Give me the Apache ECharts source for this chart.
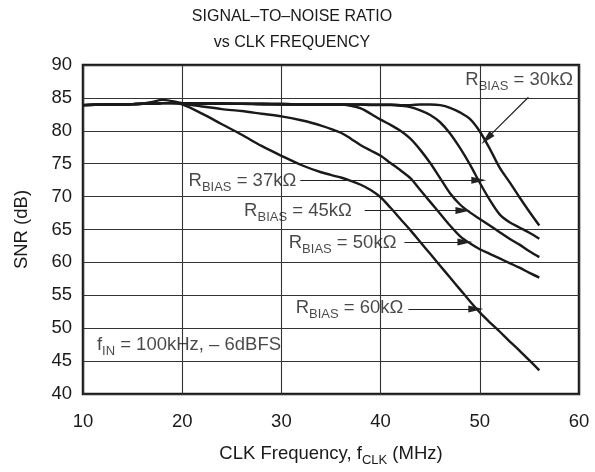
<!DOCTYPE html>
<html>
<head>
<meta charset="utf-8">
<script src="https://cdn.jsdelivr.net/npm/echarts@6/dist/echarts.min.js"></script>
<style>
html,body{margin:0;padding:0;background:#fff;}
#chart{width:595px;height:472px;}
</style>
</head>
<body>
<div id="chart"></div>
<script>
// ---- data ----
const freq = [10,12,14,16,17,18,19,20,22,24,26,28,30,32,34,36,37,38,39,40,41,42,43,44,45,46,47,48,49,50,51,52,53,54,55,56];
const snr30k = [83.9,84.0,84.0,84.1,84.1,84.2,84.2,84.2,84.2,84.2,84.1,84.1,84.1,84.0,84.0,84.0,84.0,84.0,84.0,84.0,84.0,83.9,83.9,84.0,84.0,83.9,83.5,82.8,81.8,79.9,77.3,74.4,72.2,69.9,67.7,65.6];
const snr37k = [83.9,84.0,84.0,84.1,84.4,84.7,84.5,84.2,84.1,84.1,84.1,84.0,84.0,84.0,84.0,84.0,84.0,84.0,83.9,83.9,83.9,83.8,83.6,83.1,82.4,81.3,79.6,77.4,74.9,72.1,69.5,67.3,66.1,65.3,64.5,63.6];
const snr45k = [83.9,84.0,84.0,84.1,84.1,84.2,84.2,84.2,84.1,84.1,84.1,84.1,84.0,84.0,84.0,84.0,83.8,83.4,82.6,81.7,80.9,80.0,78.8,77.1,75.1,72.8,70.5,68.8,67.6,66.6,65.6,64.6,63.6,62.7,61.7,60.8];
const snr50k = [83.9,84.0,84.0,84.1,84.1,84.2,84.2,84.1,83.7,83.3,83.0,82.6,82.2,81.6,80.8,79.7,78.8,77.8,77.0,76.2,75.1,74.0,72.8,71.0,69.2,67.4,65.6,64.0,62.9,62.0,61.3,60.6,59.9,59.2,58.4,57.7];
const snr60k = [83.9,84.0,84.0,84.1,84.1,84.2,84.2,84.0,82.6,81.0,79.4,77.7,76.2,74.8,73.7,72.9,72.4,71.8,71.0,69.9,68.3,66.6,64.9,63.1,61.3,59.5,57.7,55.9,54.1,52.4,50.9,49.5,48.0,46.6,45.1,43.6];

const xTicks = [10,20,30,40,50,60];
const yTicks = [40,45,50,55,60,65,70,75,80,85,90];

// annotation labels: [x, y, resistor text, anchor side]
const labelPos = [
  [59.4, 87.8, '30kΩ', 'left'],
  [31.5, 72.4, '37kΩ', 'left'],
  [37.1, 67.9, '45kΩ', 'left'],
  [41.6, 63.0, '50kΩ', 'left'],
  [42.3, 53.1, '60kΩ', 'left']
];
// arrows: [x1, y1, x2, y2]
const arrows = [
  [54.9, 85.1, 50.7, 78.8],
  [31.9, 72.5, 49.9, 72.5],
  [38.4, 67.9, 48.3, 67.9],
  [42.4, 63.1, 48.5, 63.1],
  [42.8, 52.9, 49.6, 52.9]
];
const condPos = [11.4, 47.5];

const FONT = 'Liberation Sans, Arial, sans-serif';
const INK = '#1a1a1a';
const FS = 18.5;

function curve(name, vals){
  return {
    name, type:'line', data: freq.map((f,i)=>[f, vals[i]]),
    showSymbol:false, smooth:0.3,
    lineStyle:{color:INK, width:2.4}, silent:true, animation:false, z:3
  };
}

const rich = {
  r:{fontSize:FS, color:INK, fontFamily:FONT},
  s:{fontSize:13, color:INK, fontFamily:FONT, padding:[14,0,0,0]}
};

const chart = echarts.init(document.getElementById('chart'), null, {renderer:'canvas'});
chart.setOption({
  backgroundColor:'#fff',
  animation:false,
  title:{
    text:'SIGNAL–TO–NOISE RATIO\nvs CLK FREQUENCY',
    left:292, top:4, textAlign:'center', padding:0,
    textStyle:{fontFamily:FONT, fontSize:16, fontWeight:'normal', color:INK, lineHeight:26}
  },
  grid:{left:83, right:16, top:65, bottom:72, show:true, borderColor:INK, borderWidth:2.5, backgroundColor:'transparent'},
  xAxis:{
    type:'value', min:10, max:60, interval:10,
    axisLine:{show:false}, axisTick:{show:false},
    axisLabel:{fontFamily:FONT, fontSize:FS, color:INK, margin:18,
      formatter:v=> xTicks.includes(v) ? String(v) : ''},
    splitLine:{show:true, lineStyle:{color:'#333', width:1.1}},
    name:'CLK Frequency, f{s|CLK} (MHz)', nameLocation:'middle', nameGap:46,
    nameTextStyle:{fontFamily:FONT, fontSize:FS, color:INK, rich:rich}
  },
  yAxis:{
    type:'value', min:40, max:90, interval:5,
    axisLine:{show:false}, axisTick:{show:false},
    axisLabel:{fontFamily:FONT, fontSize:FS, color:INK, margin:11,
      formatter:v=> yTicks.includes(v) ? String(v) : ''},
    splitLine:{show:true, lineStyle:{color:'#333', width:1.1}},
    name:'SNR (dB)', nameLocation:'middle', nameGap:52,
    nameTextStyle:{fontFamily:FONT, fontSize:FS, color:INK}
  },
  series:[
    curve('30k', snr30k),
    curve('37k', snr37k),
    curve('45k', snr45k),
    curve('50k', snr50k),
    curve('60k', snr60k),
    {
      type:'scatter', symbolSize:0, silent:true, animation:false, z:5,
      data: labelPos.map(p=>({value:[p[0],p[1]], label:{
        show:true, position:p[3], distance:0,
        formatter:'{r|R}{s|BIAS}{r| = '+p[2]+'}', rich:rich
      }})).concat([{value:condPos, label:{
        show:true, position:'right', distance:0,
        formatter:'{r|f}{s|IN}{r| = 100kHz, – 6dBFS}', rich:rich
      }}]),
      markLine:{
        silent:true, animation:false,
        symbol:['none','triangle'], symbolSize:[7,15],
        lineStyle:{color:'#222', width:1.2, type:'solid'},
        label:{show:false},
        data: arrows.map(a=>[{coord:[a[0],a[1]]},{coord:[a[2],a[3]]}])
      }
    }
  ]
});
</script>
</body>
</html>
